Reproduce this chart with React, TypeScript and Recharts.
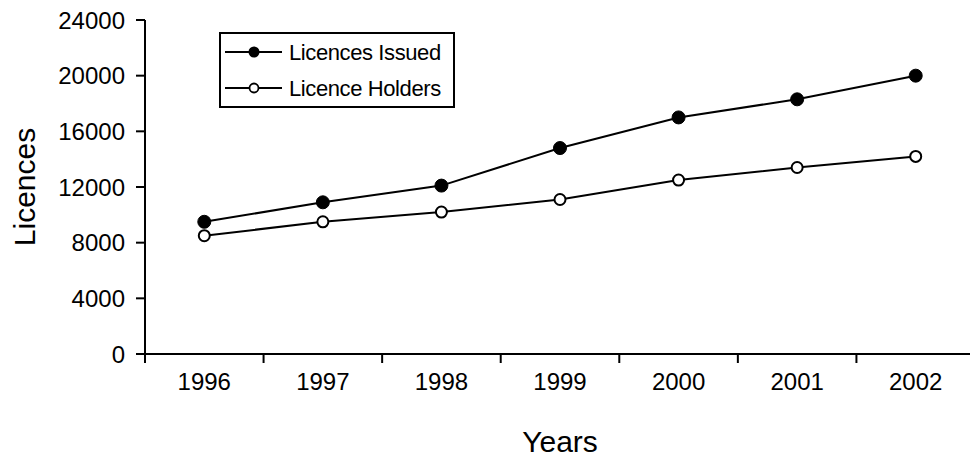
import { LineChart, Line, XAxis, YAxis, Legend } from 'recharts';

const years = ['1996', '1997', '1998', '1999', '2000', '2001', '2002'];
const licencesIssued = [9500, 10900, 12100, 14800, 17000, 18300, 20000];
const licenceHolders = [8500, 9500, 10200, 11100, 12500, 13400, 14200];
const yTicks = [0, 4000, 8000, 12000, 16000, 20000, 24000];

const data = years.map((year, i) => ({
  year,
  issued: licencesIssued[i],
  holders: licenceHolders[i],
}));

const FONT = '"Liberation Sans", Arial, sans-serif';

// x ticks sit on the category boundaries, label in the middle
const YearTick = (props: any) => {
  const { x, y, payload } = props;
  const half = payload?.offset || 59.3;
  return (
    <g>
      <line x1={x - half} y1={y} x2={x - half} y2={y + 9} stroke="#000" strokeWidth={2} />
      <text x={x} y={y + 36} textAnchor="middle" fontSize={24} fontFamily={FONT} fill="#000">
        {payload.value}
      </text>
    </g>
  );
};

const LegendBox = () => (
  <div style={{ width: 236, height: 76, border: '2px solid #000', boxSizing: 'border-box', background: '#fff' }}>
    <svg width={232} height={72} style={{ display: 'block' }}>
      <line x1={4} y1={18} x2={61} y2={18} stroke="#000" strokeWidth={2} />
      <circle cx={33} cy={18} r={5.5} fill="#000" />
      <text x={68} y={26} fontSize={22} letterSpacing={-0.4} fontFamily={FONT} fill="#000">Licences Issued</text>
      <line x1={4} y1={54} x2={61} y2={54} stroke="#000" strokeWidth={2} />
      <circle cx={33} cy={54} r={4.5} fill="#fff" stroke="#000" strokeWidth={1.8} />
      <text x={68} y={62} fontSize={22} letterSpacing={-0.4} fontFamily={FONT} fill="#000">Licence Holders</text>
    </svg>
  </div>
);

export default function App() {
  return (
    <div style={{ position: 'absolute', left: 0, top: 0, width: 970, height: 458, overflow: 'hidden', background: '#fff' }}>
      <LineChart width={980} height={458} data={data} margin={{ top: 20, right: 5, bottom: 0, left: 0 }}>
        <XAxis
          dataKey="year"
          scale="band"
          height={104}
          axisLine={{ stroke: '#000', strokeWidth: 2 }}
          tickLine={false}
          tickSize={0}
          tickMargin={0}
          tick={<YearTick />}
          interval={0}
          label={{ value: 'Years', position: 'insideBottom', offset: 6, fontSize: 30, fontFamily: FONT, fill: '#000' }}
        />
        <YAxis
          width={145}
          domain={[0, 24000]}
          ticks={yTicks}
          interval={0}
          axisLine={{ stroke: '#000', strokeWidth: 2 }}
          tickLine={{ stroke: '#000', strokeWidth: 2 }}
          tickSize={9}
          tickMargin={11}
          tick={{ fontSize: 24, fontFamily: FONT, fill: '#000' }}
          label={(p: any) => {
            const vb = p.viewBox;
            const cy = vb.y + vb.height / 2;
            return (
              <text x={35} y={cy} transform={`rotate(-90, 35, ${cy})`} textAnchor="middle" fontSize={30} fontFamily={FONT} fill="#000">
                Licences
              </text>
            );
          }}
        />
        <Legend
          layout="vertical"
          align="center"
          verticalAlign="middle"
          content={<LegendBox />}
          wrapperStyle={{ left: 219, top: 32, width: 236, height: 76 }}
        />
        <Line
          type="linear"
          dataKey="issued"
          name="Licences Issued"
          stroke="#000"
          strokeWidth={2}
          dot={{ r: 6.5, fill: '#000', stroke: '#000', strokeWidth: 1 }}
          isAnimationActive={false}
        />
        <Line
          type="linear"
          dataKey="holders"
          name="Licence Holders"
          stroke="#000"
          strokeWidth={2}
          dot={{ r: 5.5, fill: '#fff', stroke: '#000', strokeWidth: 2 }}
          isAnimationActive={false}
        />
      </LineChart>
    </div>
  );
}
